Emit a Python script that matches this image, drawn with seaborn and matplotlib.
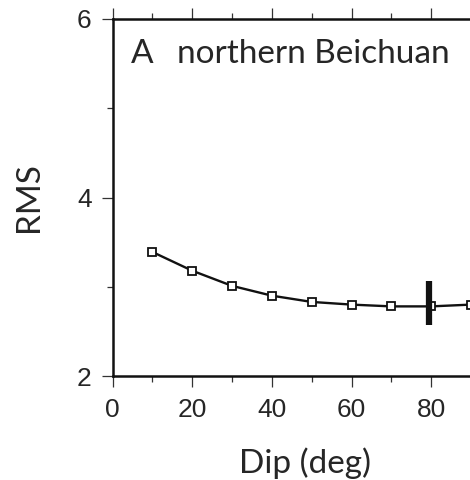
import matplotlib
matplotlib.use("Agg")
import matplotlib.pyplot as plt
import seaborn as sns
import pandas as pd
from matplotlib.ticker import MultipleLocator

dip = [10, 20, 30, 40, 50, 60, 70, 80, 90]
rms = [3.39, 3.18, 3.01, 2.90, 2.83, 2.80, 2.78, 2.78, 2.80]
best_dip = 79.5
best_range = [2.57, 3.06]
panel = "A"
title = "northern Beichuan"
xlabel = "Dip (deg)"
ylabel = "RMS"
xticks = [0, 20, 40, 60, 80]
yticks = [2, 4, 6]

sns.set_theme(style="ticks")
plt.rcParams['font.family'] = ['Liberation Sans', 'DejaVu Sans']
label_font = ['Lato', 'DejaVu Sans']

fig = plt.figure(figsize=(4.7, 4.8), dpi=100)
ax = fig.add_axes([112.5 / 470, 104 / 480, 358.5 / 470, 357 / 480])
df = pd.DataFrame({"dip": dip, "rms": rms})
sns.lineplot(data=df, x="dip", y="rms", ax=ax, color="#111111", lw=1.7,
             marker="s", markersize=5.5, markerfacecolor="white",
             markeredgecolor="#111111", markeredgewidth=1.3)
ax.vlines(best_dip, best_range[0], best_range[1], color="#111111", lw=4.5)

ax.set_xlim(0, 90)
ax.set_ylim(2, 6)
ax.set_xticks(xticks)
ax.set_yticks(yticks)
ax.xaxis.set_minor_locator(MultipleLocator(10))
ax.yaxis.set_minor_locator(MultipleLocator(1))
ax.tick_params(which="both", direction="out", top=True, right=False,
               labeltop=False, color="#333333", width=0.9)
ax.tick_params(axis="x", which="major", length=8, labelsize=19, pad=8)
ax.tick_params(axis="y", which="major", length=8, labelsize=19, pad=7)
ax.tick_params(which="minor", length=4.3)
for s in ["left", "bottom", "top"]:
    ax.spines[s].set_linewidth(1.8)
    ax.spines[s].set_color("#111111")
ax.spines["right"].set_visible(False)

ax.set_xlabel(xlabel, fontsize=24, family=label_font)
ax.set_ylabel(ylabel, fontsize=24, family=label_font)
ax.xaxis.set_label_coords(0.538, -0.2)
ax.yaxis.set_label_coords(-0.19, 0.5)

ax.text(0.05, 0.877, panel, transform=ax.transAxes, fontsize=24,
        family=label_font, va="baseline", ha="left")
ax.text(0.18, 0.877, title, transform=ax.transAxes, fontsize=24,
        family=label_font, va="baseline", ha="left")

fig.savefig("out.png", dpi=100)
